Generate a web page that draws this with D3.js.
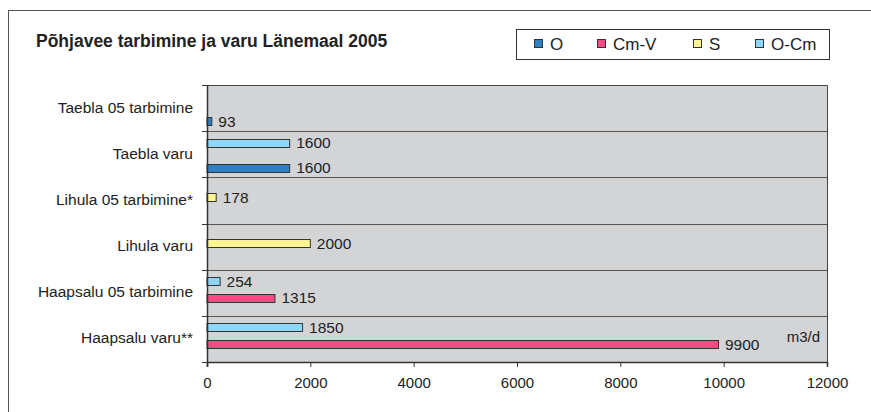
<!DOCTYPE html>
<html>
<head>
<meta charset="utf-8">
<script src="https://cdnjs.cloudflare.com/ajax/libs/d3/7.8.5/d3.min.js"></script>
<style>
  body { margin: 0; background: #fff; }
  svg { display: block; font-family: "Liberation Sans", Arial, sans-serif; }
</style>
</head>
<body>
<div id="chart"></div>
<script>
// categories top to bottom
const categories = ["Taebla 05 tarbimine", "Taebla varu", "Lihula 05 tarbimine*", "Lihula varu", "Haapsalu 05 tarbimine", "Haapsalu varu**"];
const seriesNames = ["O", "Cm-V", "S", "O-Cm"];
const valuesO    = [93, 1600, null, null, null, null];
const valuesCmV  = [null, null, null, null, 1315, 9900];
const valuesS    = [null, null, 178, 2000, null, null];
const valuesOCm  = [null, 1600, null, null, 254, 1850];
const xTicks = [0, 2000, 4000, 6000, 8000, 10000, 12000];

const seriesColors = {"O": "#2f7fc3", "Cm-V": "#ee4e85", "S": "#fff491", "O-Cm": "#8dd6f6"};
const seriesValues = {"O": valuesO, "Cm-V": valuesCmV, "S": valuesS, "O-Cm": valuesOCm};

const W = 871, H = 412;
const plot = {left: 207, right: 827, top: 85, bottom: 362};

let svg = d3.select('#chart').append('svg')
    .attr('width', W)
    .attr('height', H);

// outer chart frame (runs off the picture right and bottom)
svg.append('rect')
    .attr('x', 8.5).attr('y', 10.5)
    .attr('width', 1000).attr('height', 1000)
    .attr('fill', '#fff')
    .attr('stroke', '#555');

// title
svg.append('text')
    .attr('x', 36).attr('y', 46.5)
    .attr('font-size', 17.5)
    .attr('font-weight', 'bold')
    .attr('fill', '#222')
    .text('Põhjavee tarbimine ja varu Länemaal 2005');

// scales
let x = d3.scaleLinear().domain([0, 12000]).range([plot.left, plot.right]);
let y0 = d3.scaleBand().domain(categories).range([plot.top, plot.bottom]).padding(0);
// series slots inside a band, O-Cm on top, O at bottom
let y1 = d3.scaleBand().domain(seriesNames.slice().reverse())
    .range([1, y0.bandwidth() + 1]).paddingOuter(0.78).paddingInner(0);

// plot background
svg.append('rect')
    .attr('x', plot.left).attr('y', plot.top)
    .attr('width', plot.right - plot.left).attr('height', plot.bottom - plot.top)
    .attr('fill', '#d3d4d6');

// band dividers
svg.append('g').selectAll('line')
    .data(categories.slice(1))
    .enter().append('line')
    .attr('x1', plot.left).attr('x2', plot.right)
    .attr('y1', d => Math.round(y0(d)) + 0.5)
    .attr('y2', d => Math.round(y0(d)) + 0.5)
    .attr('stroke', '#555');

// top and right border
svg.append('path')
    .attr('d', `M${plot.left},${plot.top + 0.5}H${plot.right + 0.5}V${plot.bottom}`)
    .attr('fill', 'none')
    .attr('stroke', '#444');

// bars
let barData = [];
categories.forEach((c, i) => {
    seriesNames.forEach(s => {
        let v = seriesValues[s][i];
        if (v != null) barData.push({cat: c, series: s, value: v});
    });
});

let bars = svg.append('g');
bars.selectAll('rect')
    .data(barData)
    .enter().append('rect')
    .attr('x', x(0))
    .attr('y', d => Math.round(y0(d.cat) + y1(d.series)) + 0.5)
    .attr('width', d => x(d.value) - x(0))
    .attr('height', Math.round(y1.bandwidth()))
    .attr('fill', d => seriesColors[d.series])
    .attr('stroke', '#333')
    .attr('stroke-width', 1);

bars.selectAll('text')
    .data(barData)
    .enter().append('text')
    .attr('x', d => x(d.value) + 6.5)
    .attr('y', d => y0(d.cat) + y1(d.series) + y1.bandwidth() / 2)
    .attr('dy', '0.36em')
    .attr('font-size', 15.5)
    .attr('fill', '#222')
    .text(d => d.value);

// y axis
let yAxis = svg.append('g');
yAxis.append('line')
    .attr('x1', plot.left + 0.5).attr('x2', plot.left + 0.5)
    .attr('y1', plot.top).attr('y2', plot.bottom + 5)
    .attr('stroke', '#333').attr('stroke-width', 1.5);
yAxis.selectAll('.tick')
    .data(categories.concat(['end']))
    .enter().append('line')
    .attr('x1', plot.left - 5).attr('x2', plot.left)
    .attr('y1', (d, i) => Math.round(plot.top + i * y0.step()) + 0.5)
    .attr('y2', (d, i) => Math.round(plot.top + i * y0.step()) + 0.5)
    .attr('stroke', '#333');
yAxis.selectAll('text')
    .data(categories)
    .enter().append('text')
    .attr('x', 193)
    .attr('y', d => y0(d) + y0.bandwidth() / 2 - 1)
    .attr('dy', '0.36em')
    .attr('text-anchor', 'end')
    .attr('font-size', 15.5)
    .attr('fill', '#222')
    .text(d => d);

// x axis
let xAxis = svg.append('g')
    .attr('transform', `translate(0, ${plot.bottom})`)
    .call(d3.axisBottom(x).tickValues(xTicks).tickSize(5).tickPadding(10).tickFormat(d3.format('d')));
xAxis.select('.domain').attr('stroke', '#333').attr('stroke-width', 1.5);
xAxis.selectAll('.tick line').attr('stroke', '#333');
xAxis.selectAll('.tick text')
    .attr('font-size', 15)
    .attr('font-family', '"Liberation Sans", Arial, sans-serif')
    .attr('fill', '#222');

// unit
svg.append('text')
    .attr('x', 820).attr('y', 342)
    .attr('text-anchor', 'end')
    .attr('font-size', 15)
    .attr('fill', '#222')
    .text('m3/d');

// legend
let legend = svg.append('g');
legend.append('rect')
    .attr('x', 516.5).attr('y', 29.5)
    .attr('width', 313).attr('height', 30)
    .attr('fill', '#fff')
    .attr('stroke', '#333');
const legendX = [534, 597, 693, 755];
let li = legend.selectAll('g.item')
    .data(seriesNames)
    .enter().append('g')
    .attr('class', 'item')
    .attr('transform', (d, i) => `translate(${legendX[i]}, 39)`);
li.append('rect')
    .attr('x', 0.5).attr('y', 0.5)
    .attr('width', 8).attr('height', 8)
    .attr('fill', d => seriesColors[d])
    .attr('stroke', '#333');
li.append('text')
    .attr('x', 16).attr('y', 4.5)
    .attr('dy', '0.36em')
    .attr('font-size', 17)
    .attr('fill', '#222')
    .text(d => d);
</script>
</body>
</html>
